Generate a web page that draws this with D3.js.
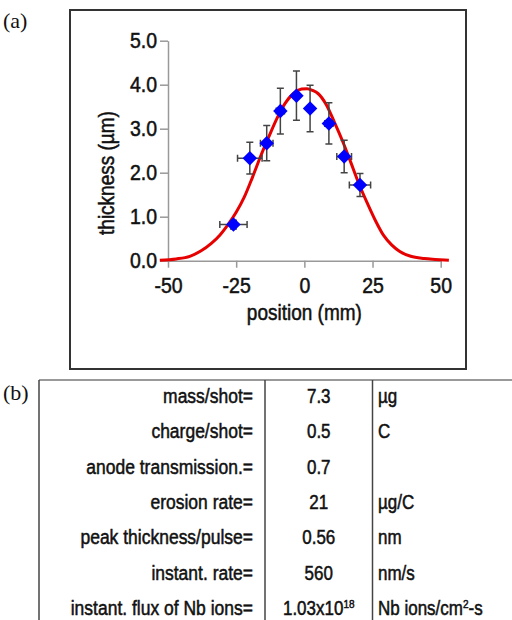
<!DOCTYPE html>
<html>
<head>
<meta charset="utf-8">
<script src="https://cdn.jsdelivr.net/npm/d3@7"></script>
<style>
  body { margin: 0; background: #fff; }
  svg { display: block; }
  text { font-family: "Liberation Sans", Arial, sans-serif; fill: #111; }
  .tall { transform-box: fill-box; transform-origin: center; transform: scaleY(1.15);
          stroke: #111; stroke-width: 0.45px; }
</style>
</head>
<body>
<svg id="fig" width="512" height="620"></svg>
<script>
// measured points with error bars
const positions  = [-26, -20, -13.8, -8.8, -2.9, 2.1, 9.0, 14.6, 20.4];
const thickness  = [0.82, 2.33, 2.67, 3.40, 3.75, 3.46, 3.12, 2.37, 1.72];
const posErr     = [5.0, 4.5, 2.3, 1.5, 1.0, 1.0, 1.5, 2.7, 3.9];
const thickErr   = [0.1, 0.36, 0.40, 0.52, 0.56, 0.53, 0.47, 0.37, 0.26];

// fitted profile
const fitPos   = [-53, -47, -42, -38, -34, -31, -28, -25, -22, -19, -16, -13, -10, -7, -4, -1, 1, 3, 5, 8, 11, 14, 17, 20, 23, 26, 29, 32, 35, 39, 44, 48, 53];
const fitThick = [0.01, 0.04, 0.10, 0.22, 0.40, 0.58, 0.82, 1.10, 1.45, 1.90, 2.38, 2.82, 3.24, 3.58, 3.80, 3.90, 3.91, 3.87, 3.80, 3.55, 3.15, 2.72, 2.24, 1.75, 1.32, 0.92, 0.58, 0.36, 0.21, 0.10, 0.05, 0.03, 0.01];

const xTicks = [-50, -25, 0, 25, 50];
const yTicks = [0, 1, 2, 3, 4, 5];

// table (b)
const rowLabels = ["mass/shot=", "charge/shot=", "anode transmission.=", "erosion rate=",
                   "peak thickness/pulse=", "instant. rate=", "instant. flux of Nb ions="];
const rowValues = ["7.3", "0.5", "0.7", "21", "0.56", "560", "1.03x10^18"];
const rowUnits  = ["µg", "C", "", "µg/C", "nm", "nm/s", "Nb ions/cm^2-s"];

const svg = d3.select("#fig");

// panel labels
svg.append("text").attr("x", 3).attr("y", 28)
  .style("font-family", "'Liberation Serif', 'Times New Roman', serif")
  .style("font-size", "22px").text("(a)");
svg.append("text").attr("x", 3).attr("y", 400)
  .style("font-family", "'Liberation Serif', 'Times New Roman', serif")
  .style("font-size", "22px").text("(b)");

// frame of panel (a)
svg.append("rect")
  .attr("x", 70).attr("y", 10).attr("width", 396).attr("height", 359)
  .attr("fill", "none").attr("stroke", "#333").attr("stroke-width", 2);

const x = d3.scaleLinear().domain([-50, 50]).range([168, 440.7]);
const y = d3.scaleLinear().domain([0, 5]).range([260.7, 40.7]);

const xAxis = svg.append("g")
  .attr("transform", `translate(0,${y(0)})`)
  .call(d3.axisBottom(x).tickValues(xTicks).tickSize(7).tickSizeOuter(0).tickPadding(10)
    .tickFormat(d => String(d)));
const yAxis = svg.append("g")
  .attr("transform", `translate(${x(-50)},0)`)
  .call(d3.axisLeft(y).tickValues(yTicks).tickSize(8).tickSizeOuter(0).tickPadding(3)
    .tickFormat(d3.format(".1f")));

[xAxis, yAxis].forEach(g => {
  g.select(".domain").attr("stroke", "#999").attr("stroke-width", 1.5);
  g.selectAll(".tick line").attr("stroke", "#999").attr("stroke-width", 1.5);
  g.selectAll(".tick text").attr("class", "tall").style("font-size", "19.5px").attr("fill", "#111");
});

svg.append("text")
  .attr("class", "tall")
  .attr("x", x(0)).attr("y", 319).attr("text-anchor", "middle")
  .style("font-size", "19px").text("position (mm)");
svg.append("g")
  .attr("transform", `translate(113,173) rotate(-90)`)
  .append("text")
  .attr("class", "tall")
  .attr("text-anchor", "middle")
  .style("font-size", "19px").text("thickness (µm)");

// fit curve
const fit = fitPos.map((p, i) => ({ p: p, t: fitThick[i] }));
svg.append("path")
  .datum(fit)
  .attr("fill", "none")
  .attr("stroke", "#e60000")
  .attr("stroke-width", 3)
  .attr("d", d3.line().x(d => x(d.p)).y(d => y(d.t)).curve(d3.curveMonotoneX));

// points with error bars
const pts = positions.map((p, i) => ({ p: p, t: thickness[i], ex: posErr[i], ey: thickErr[i] }));
const err = svg.append("g").attr("stroke", "#444").attr("stroke-width", 1.5).attr("fill", "none");
const cap = 3.5;
pts.forEach(d => {
  const cx = x(d.p), cy = y(d.t);
  const y1 = y(d.t + d.ey), y2 = y(d.t - d.ey);
  const x1 = x(d.p - d.ex), x2 = x(d.p + d.ex);
  err.append("path").attr("d",
    `M${cx},${y1}V${y2}M${cx - cap},${y1}H${cx + cap}M${cx - cap},${y2}H${cx + cap}` +
    `M${x1},${cy}H${x2}M${x1},${cy - cap}V${cy + cap}M${x2},${cy - cap}V${cy + cap}`);
});

svg.append("g").selectAll("path.pt")
  .data(pts)
  .enter()
  .append("path")
  .attr("class", "pt")
  .attr("d", d3.symbol().type(d3.symbolSquare).size(105))
  .attr("transform", d => `translate(${x(d.p)},${y(d.t)}) rotate(45)`)
  .attr("fill", "#0000ff");

// table (b)
const tTop = 380, tLeft = 39, col1 = 265, col2 = 372.5;
const rowY = d3.scaleLinear().domain([0, 6]).range([396, 608]);
const tbl = svg.append("g").attr("stroke", "#444").attr("stroke-width", 1.5);
tbl.append("line").attr("x1", tLeft).attr("x2", 512).attr("y1", tTop).attr("y2", tTop).attr("stroke", "#777");
[tLeft, col1, col2].forEach(cx => {
  tbl.append("line").attr("x1", cx).attr("x2", cx).attr("y1", tTop).attr("y2", 620);
});

function richText(sel, str) {
  const parts = str.split("^");
  sel.append("tspan").text(parts[0]);
  if (parts.length > 1) {
    const m = parts[1].match(/^(\d+)(.*)$/);
    sel.append("tspan").attr("dy", "-6").style("font-size", "10px").text(m[1]);
    if (m[2]) sel.append("tspan").attr("dy", "6").text(m[2]);
  }
}

const rows = svg.append("g").selectAll("g")
  .data(rowLabels)
  .enter()
  .append("g")
  .attr("transform", (d, i) => `translate(0,${rowY(i)})`);

rows.append("text").attr("class", "tall").attr("x", 253).attr("dy", "0.35em").attr("text-anchor", "end")
  .style("font-size", "17.5px").text(d => d);
rows.append("text").attr("class", "tall").attr("x", (col1 + col2) / 2).attr("dy", "0.35em").attr("text-anchor", "middle")
  .style("font-size", "17px").each(function (d, i) { richText(d3.select(this), rowValues[i]); });
rows.append("text").attr("class", "tall").attr("x", 378).attr("dy", "0.35em")
  .style("font-size", "17px").each(function (d, i) { richText(d3.select(this), rowUnits[i]); });
</script>
</body>
</html>
